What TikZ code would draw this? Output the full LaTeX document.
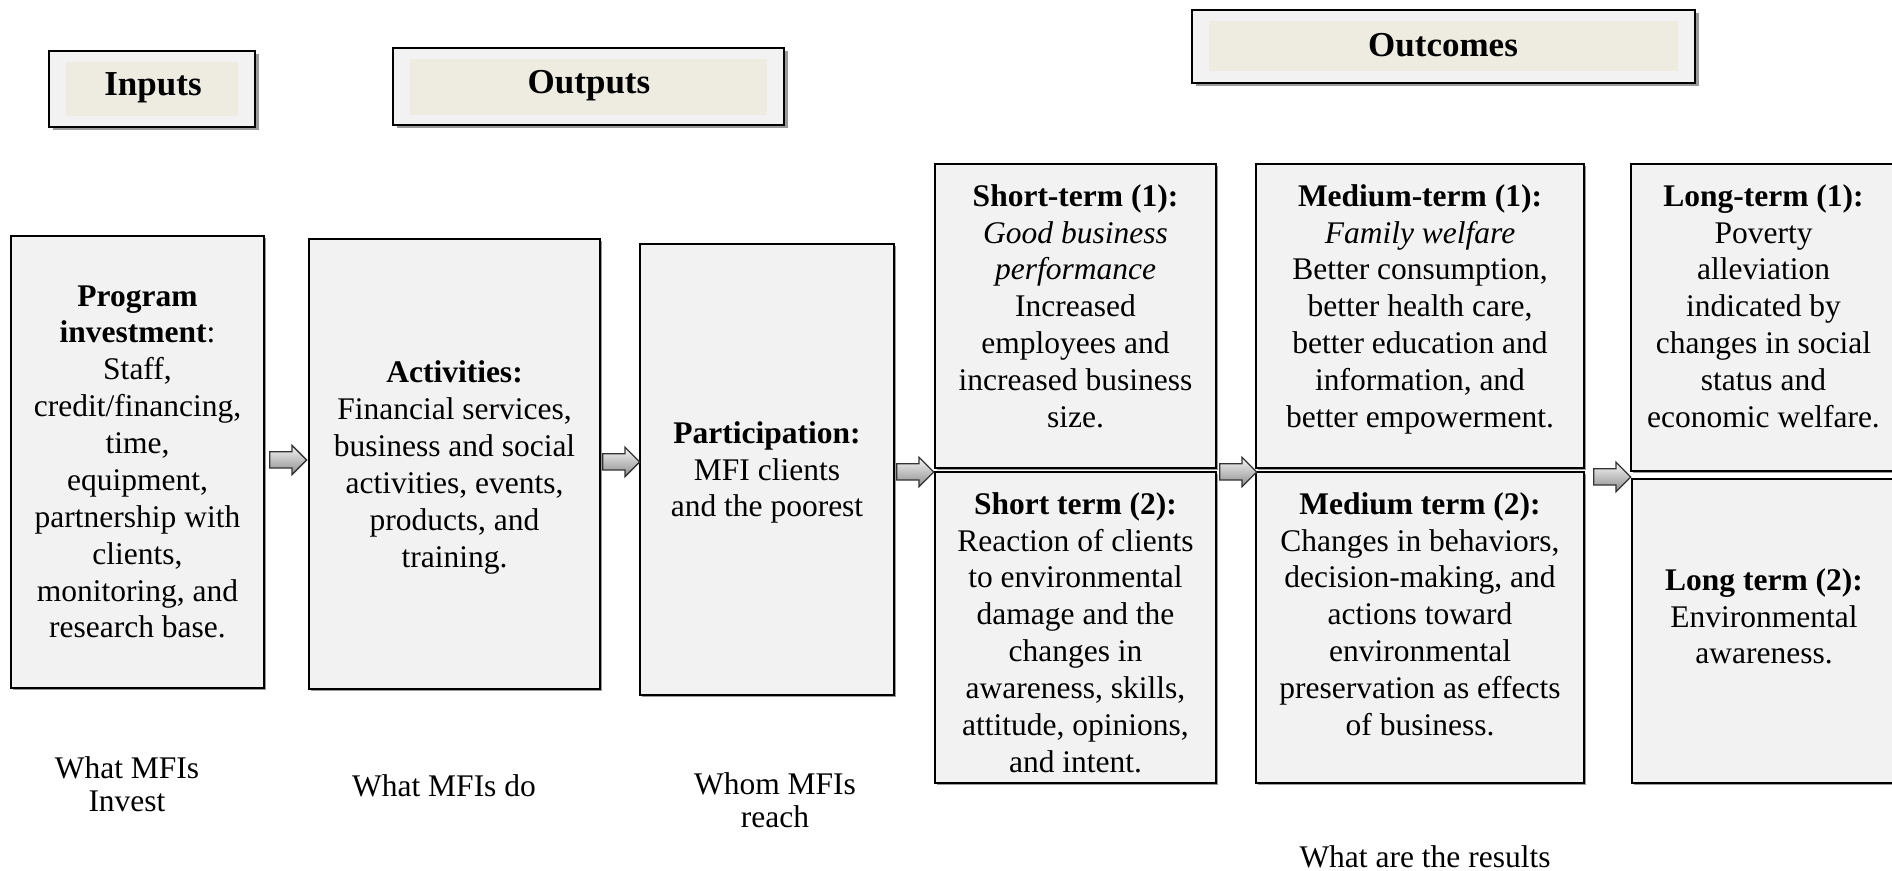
\documentclass[tikz,border=0pt]{standalone}
\usepackage{fontspec}
\setmainfont{Liberation Serif}
\usetikzlibrary{positioning,fit,shapes.arrows,shadows}
\definecolor{LmBoxGray}{HTML}{F2F2F2}
\definecolor{LmBeige}{HTML}{EEECE1}
\definecolor{LmShadow}{HTML}{9A9A9A}

\begin{document}
\begin{tikzpicture}[x=0.4pt,y=-0.4pt,
    every node/.style={font=\fontsize{12.6pt}{14.75pt}\selectfont},
    frame/.style={draw=black,line width=0.7pt,fill=LmBoxGray,inner sep=0pt,
      drop shadow={shadow xshift=0.8pt,shadow yshift=-0.8pt,fill=LmShadow,opacity=1}},
    headframe/.style={draw=black,line width=0.9pt,fill=LmBoxGray,inner sep=0pt,
      drop shadow={shadow xshift=1.4pt,shadow yshift=-1.4pt,fill=LmShadow,opacity=1}},
    headfill/.style={fill=LmBeige,inner sep=0pt},
    headtext/.style={inner sep=0pt,anchor=base,font=\fontsize{14pt}{16pt}\selectfont\bfseries},
    boxtext/.style={align=center,inner sep=0pt},
    flow/.style={single arrow,draw=black!80,line width=0.5pt,top color=black!4,bottom color=black!45,
      text height=3pt,text depth=3pt,minimum height=14.8pt,single arrow head extend=2.6pt,
      inner sep=0pt,anchor=tail},
    caption/.style={align=center,inner sep=0pt,font=\fontsize{12.6pt}{13.2pt}\selectfont}]
  \useasboundingbox (0,0) rectangle (1892,871);
  \clip (0,0) rectangle (1892,871);

  % headers
  \node[headframe,fit={(49,51) (255,127)}] (inh) {};
  \node[headfill,fit={(66,62) (238,116)}] (inf) {};
  \node[headtext] (inputs) at (153,95.5) {Inputs};
  \node[headframe,fit={(393,48) (784,125)}] (outh) {};
  \node[headfill,fit={(410,59) (767,115)}] (outf) {};
  \node[headtext] (outputs) at (589,93.5) {Outputs};
  \node[headframe,fit={(1192,10) (1695,83)}] (outch) {};
  \node[headfill,fit={(1209,21) (1678,71)}] (outcf) {};
  \node[headtext] (outcomes) at (1443,56.5) {Outcomes};

  % inputs and outputs
  \node[frame,fit={(11,236) (264,688)}] (inv) {};
  \node[frame,fit={(309,239) (600,689)}] (act) {};
  \node[frame,fit={(640,244) (894,695)}] (part) {};
  \node[boxtext,below=19.9pt of inv.north] (invt)
    {\textbf{Program}\\\textbf{investment}:\\Staff,\\credit/financing,\\time,\\equipment,\\partnership with\\clients,\\monitoring, and\\research base.};
  \node[boxtext,below=48.9pt of act.north] (actt)
    {\textbf{Activities:}\\Financial services,\\business and social\\activities, events,\\products, and\\training.};
  \node[boxtext,below=71.1pt of part.north] (partt)
    {\textbf{Participation:}\\MFI clients\\and the poorest};

  % outcomes
  \node[frame,fit={(935,164) (1216,468)}] (st1) {};
  \node[frame,fit={(935,472) (1216,783)}] (st2) {};
  \node[frame,fit={(1256,164) (1584,468)}] (md1) {};
  \node[frame,fit={(1256,472) (1584,783)}] (md2) {};
  \node[frame,fit={(1631,164) (1896,471)}] (lt1) {};
  \node[frame,fit={(1632,479) (1896,783)}] (lt2) {};

  \node[boxtext,below=8.3pt of st1.north] (st1t)
    {\textbf{Short-term (1):}\\\textit{Good business}\\\textit{performance}\\Increased\\employees and\\increased business\\size.};
  \node[boxtext,below=8.3pt of st2.north] (st2t)
    {\textbf{Short term (2):}\\Reaction of clients\\to environmental\\damage and the\\changes in\\awareness, skills,\\attitude, opinions,\\and intent.};
  \node[boxtext,below=8.3pt of md1.north] (md1t)
    {\textbf{Medium-term (1):}\\\textit{Family welfare}\\Better consumption,\\better health care,\\better education and\\information, and\\better empowerment.};
  \node[boxtext,below=8.3pt of md2.north] (md2t)
    {\textbf{Medium term (2):}\\Changes in behaviors,\\decision-making, and\\actions toward\\environmental\\preservation as effects\\of business.};
  \node[boxtext,below=8.3pt of lt1.north] (lt1t)
    {\textbf{Long-term (1):}\\Poverty\\alleviation\\indicated by\\changes in social\\status and\\economic welfare.};
  \node[boxtext,below=35.9pt of lt2.north] (lt2t)
    {\textbf{Long term (2):}\\Environmental\\awareness.};

  % block arrows
  \node[flow] (a1) at (269,460) {};
  \node[flow] (a2) at (602,462) {};
  \node[flow] (a3) at (896,472) {};
  \node[flow] (a4) at (1219,472) {};
  \node[flow] (a5) at (1593,477) {};

  % captions
  \node[caption] (capin) at (127,784) {What MFIs\\Invest};
  \node[caption] (capdo) at (444,786) {What MFIs do};
  \node[caption] (capreach) at (775,800) {Whom MFIs\\reach};
  \node[caption] (capres) at (1425,857) {What are the results};
\end{tikzpicture}
\end{document}
